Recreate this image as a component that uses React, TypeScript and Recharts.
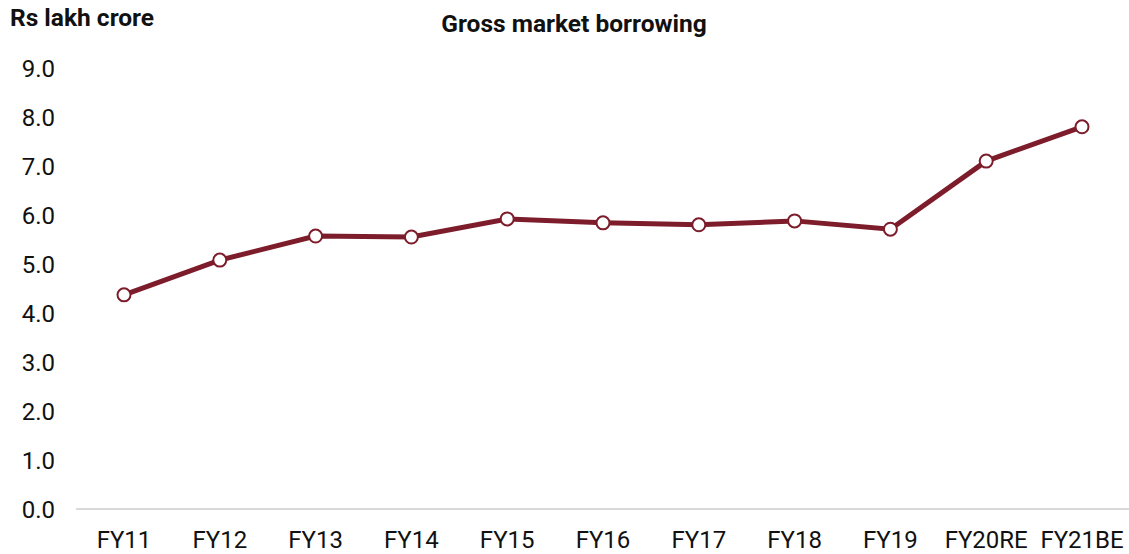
import { LineChart, Line, XAxis, YAxis, CartesianGrid } from 'recharts';

const years = ['FY11', 'FY12', 'FY13', 'FY14', 'FY15', 'FY16', 'FY17', 'FY18', 'FY19', 'FY20RE', 'FY21BE'];
const borrowing = [4.37, 5.08, 5.57, 5.55, 5.92, 5.84, 5.8, 5.88, 5.71, 7.1, 7.8];
const yTicks = [0, 1, 2, 3, 4, 5, 6, 7, 8, 9];

const data = years.map((year, i) => ({ year, value: borrowing[i] }));

const FONT = 'Roboto, "Noto Sans", sans-serif';
const WINE = '#7d1d2b';

export default function App() {
  return (
    <div style={{ position: 'absolute', left: 0, top: 0, width: 1129, height: 554, background: '#fff', fontFamily: FONT }}>
      <div style={{ position: 'absolute', left: 10, top: 3, fontSize: 24.5, fontWeight: 700, color: '#111', lineHeight: '30px' }}>
        Rs lakh crore
      </div>
      <div style={{ position: 'absolute', left: 0, width: 1148, top: 9, textAlign: 'center', fontSize: 24.5, fontWeight: 700, color: '#111', lineHeight: '30px' }}>
        Gross market borrowing
      </div>
      <LineChart width={1129} height={554} data={data} margin={{ top: 68, right: -1, left: 0, bottom: 0 }}>
        <CartesianGrid horizontal={false} vertical={false} />
        <XAxis
          dataKey="year"
          height={45}
          padding={{ left: 48, right: 48 }}
          axisLine={{ stroke: '#d9d9d9', strokeWidth: 2 }}
          tickLine={false}
          tickSize={0}
          tickMargin={22}
          interval={0}
          tick={{ fontSize: 24, fill: '#111', fontFamily: FONT }}
        />
        <YAxis
          width={76}
          domain={[0, 9]}
          ticks={yTicks}
          tickFormatter={(v: number) => v.toFixed(1)}
          axisLine={false}
          tickLine={false}
          tickSize={0}
          tickMargin={21}
          tick={{ fontSize: 24, fill: '#111', fontFamily: FONT }}
        />
        <Line
          type="linear"
          dataKey="value"
          stroke={WINE}
          strokeWidth={5}
          dot={{ r: 6.5, fill: '#fff', stroke: WINE, strokeWidth: 2 }}
          activeDot={false}
          isAnimationActive={false}
        />
      </LineChart>
    </div>
  );
}
